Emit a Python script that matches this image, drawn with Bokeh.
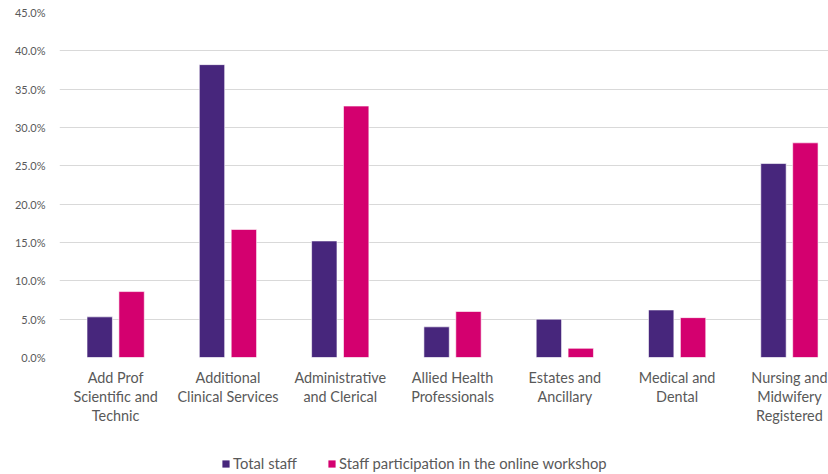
from bokeh.plotting import figure
from bokeh.layouts import column
from bokeh.models import Range1d, FixedTicker, PrintfTickFormatter, Legend, LegendItem, ColumnDataSource
from bokeh.embed import file_html
from bokeh.resources import INLINE

categories = ["Add Prof\nScientific and\nTechnic", "Additional\nClinical Services",
              "Administrative\nand Clerical", "Allied Health\nProfessionals",
              "Estates and\nAncillary", "Medical and\nDental",
              "Nursing and\nMidwifery\nRegistered"]
total_staff = [5.3, 38.2, 15.2, 4.0, 5.0, 6.2, 25.3]
participation = [8.6, 16.7, 32.8, 6.0, 1.2, 5.2, 28.0]
y_ticks = [0, 5, 10, 15, 20, 25, 30, 35, 40, 45]
series_names = ["Total staff", "Staff participation in the online workshop"]

PURPLE = "#47267c"
PINK = "#d4006f"
TEXT = "#595959"
FONT = "Lato"

centers = [i + 0.5 for i in range(len(categories))]
src = ColumnDataSource(dict(
    x1=[c - 0.142 for c in centers], x2=[c + 0.142 for c in centers],
    total=total_staff, part=participation))

p = figure(width=828, height=440, output_backend="svg", toolbar_location=None,
           x_range=Range1d(0, 6.848), y_range=Range1d(0, 45),
           min_border_left=59, min_border_right=0, min_border_top=12, min_border_bottom=83)
p.outline_line_color = None
p.background_fill_color = "white"

p.vbar(x="x1", top="total", width=0.226, source=src, fill_color=PURPLE, line_color="white", line_width=0.6)
p.vbar(x="x2", top="part", width=0.226, source=src, fill_color=PINK, line_color="white", line_width=0.6)

p.xgrid.grid_line_color = None
p.ygrid.grid_line_color = "#d9d9d9"
p.ygrid.grid_line_width = 1

p.yaxis.ticker = FixedTicker(ticks=y_ticks)
p.yaxis.formatter = PrintfTickFormatter(format="%.1f%%")
p.yaxis.axis_line_color = None
p.yaxis.major_tick_line_color = None
p.yaxis.minor_tick_line_color = None
p.yaxis.major_label_text_font = FONT
p.yaxis.major_label_text_font_size = "11px"
p.yaxis.major_label_text_color = TEXT
p.yaxis.major_label_standoff = 8

p.xaxis.ticker = FixedTicker(ticks=centers)
p.xaxis.major_label_overrides = {c: lab for c, lab in zip(centers, categories)}
p.xaxis.axis_line_color = None
p.xaxis.major_tick_line_color = None
p.xaxis.minor_tick_line_color = None
p.xaxis.major_label_text_font = FONT
p.xaxis.major_label_text_font_size = "14.4px"
p.xaxis.major_label_text_color = TEXT
p.xaxis.major_label_text_line_height = 1.12
p.xaxis.major_label_standoff = 5

# legend strip below the chart (swatch renderers lie outside its visible range)
lg = figure(width=828, height=34, output_backend="svg", toolbar_location=None,
            x_range=Range1d(0, 1), y_range=Range1d(0, 1),
            min_border=0, x_axis_location=None, y_axis_location=None)
lg.outline_line_color = None
lg.xgrid.visible = False
lg.ygrid.visible = False
d1 = lg.vbar(x=[5], top=[0.5], width=0.1, fill_color=PURPLE, line_color=None)
d2 = lg.vbar(x=[5], top=[0.5], width=0.1, fill_color=PINK, line_color=None)
legend = Legend(items=[LegendItem(label=series_names[0], renderers=[d1]),
                       LegendItem(label=series_names[1], renderers=[d2])],
                location=(162, 2), orientation="horizontal",
                glyph_width=9, glyph_height=9, label_standoff=3, spacing=30,
                padding=0, margin=0, border_line_color=None, background_fill_alpha=0,
                label_text_font=FONT, label_text_font_size="14.8px", label_text_color=TEXT)
lg.add_layout(legend)

open("out.html", "w").write(file_html(column(p, lg), INLINE))
